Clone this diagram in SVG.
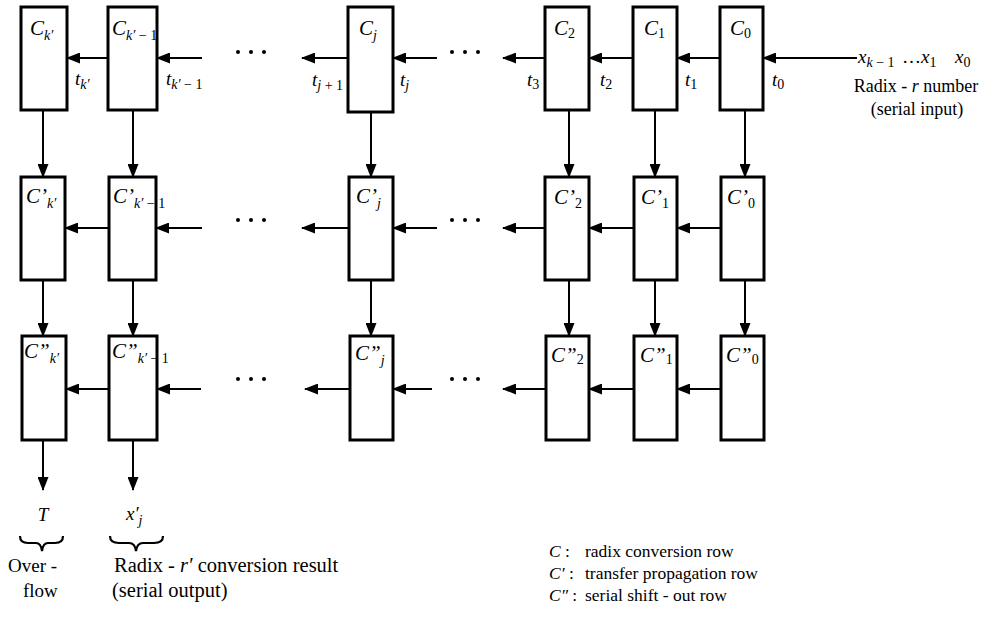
<svg xmlns="http://www.w3.org/2000/svg" width="1002" height="620" viewBox="0 0 1002 620">
<style>
.box{fill:#fff;stroke:#000;stroke-width:3}
.ln{fill:none;stroke:#000;stroke-width:2;marker-end:url(#ah)}
.br{fill:none;stroke:#000;stroke-width:2.2}
text{font-family:"Liberation Serif","Times New Roman",serif;fill:#000}
.lb{font-size:21px;font-style:italic}
.sb{font-size:14px}
.t{font-size:19px;font-style:italic}
.tx{font-size:18px}
.bt{font-size:20.5px}
.ov{font-size:19px}
.lg{font-size:17.5px}
.it{font-style:italic}
.up{font-style:normal}
</style>
<defs>
<marker id="ah" viewBox="0 0 14 11" refX="13" refY="5.5" markerWidth="14" markerHeight="11" markerUnits="userSpaceOnUse" orient="auto"><path d="M0,0 L14,5.5 L0,11 z" fill="#000"/></marker>
</defs>

<!-- Row 1 -->
<g id="C_k"><rect class="box" x="21" y="7" width="46" height="103"/><text class="lb" x="30" y="35">C<tspan class="sb" dy="5">k′</tspan></text></g>
<g id="C_k1"><rect class="box" x="108" y="7" width="49" height="103"/><text class="lb" x="112" y="35">C<tspan class="sb" dy="5">k′<tspan class="up"> − 1</tspan></tspan></text></g>
<g id="C_j"><rect class="box" x="348" y="7" width="45" height="105"/><text class="lb" x="359" y="35">C<tspan class="sb" dy="5">j</tspan></text></g>
<g id="C_2"><rect class="box" x="545" y="7" width="44" height="103"/><text class="lb" x="554" y="35">C<tspan class="sb up" dy="3">2</tspan></text></g>
<g id="C_1"><rect class="box" x="633" y="7" width="44" height="103"/><text class="lb" x="644" y="35">C<tspan class="sb up" dy="3">1</tspan></text></g>
<g id="C_0"><rect class="box" x="720" y="7" width="43" height="103"/><text class="lb" x="730" y="35">C<tspan class="sb up" dy="3">0</tspan></text></g>

<!-- Row 2 -->
<g id="Cp_k"><rect class="box" x="21" y="177" width="44" height="103"/><text class="lb" x="26" y="203">C’<tspan class="sb" dy="5">k′</tspan></text></g>
<g id="Cp_k1"><rect class="box" x="109" y="177" width="47" height="103"/><text class="lb" x="113" y="203">C’<tspan class="sb" dy="5">k′<tspan class="up"> − 1</tspan></tspan></text></g>
<g id="Cp_j"><rect class="box" x="349" y="177" width="44" height="103"/><text class="lb" x="356" y="203">C’<tspan class="sb" dy="5">j</tspan></text></g>
<g id="Cp_2"><rect class="box" x="545" y="177" width="44" height="103"/><text class="lb" x="554" y="204">C’<tspan class="sb up" dy="4">2</tspan></text></g>
<g id="Cp_1"><rect class="box" x="634" y="177" width="43" height="103"/><text class="lb" x="641" y="204">C’<tspan class="sb up" dy="4">1</tspan></text></g>
<g id="Cp_0"><rect class="box" x="721" y="177" width="43" height="103"/><text class="lb" x="727" y="204">C’<tspan class="sb up" dy="4">0</tspan></text></g>

<!-- Row 3 -->
<g id="Cpp_k"><rect class="box" x="22" y="336" width="44" height="104"/><text class="lb" x="24" y="358">C”<tspan class="sb" dy="5">k′</tspan></text></g>
<g id="Cpp_k1"><rect class="box" x="109" y="336" width="48" height="104"/><text class="lb" x="112" y="358">C”<tspan class="sb" dy="5">k′<tspan class="up"> − 1</tspan></tspan></text></g>
<g id="Cpp_j"><rect class="box" x="350" y="336" width="43" height="104"/><text class="lb" x="355" y="360">C”<tspan class="sb" dy="5">j</tspan></text></g>
<g id="Cpp_2"><rect class="box" x="546" y="336" width="43" height="104"/><text class="lb" x="551" y="362">C”<tspan class="sb up" dy="2">2</tspan></text></g>
<g id="Cpp_1"><rect class="box" x="634" y="336" width="43" height="104"/><text class="lb" x="640" y="362">C”<tspan class="sb up" dy="2">1</tspan></text></g>
<g id="Cpp_0"><rect class="box" x="721" y="336" width="43" height="104"/><text class="lb" x="726" y="362">C”<tspan class="sb up" dy="2">0</tspan></text></g>

<!-- Connectors -->
<g id="connectors">
<line class="ln" x1="108" y1="58" x2="67" y2="58"/>
<line class="ln" x1="202" y1="58" x2="157" y2="58"/>
<line class="ln" x1="348" y1="58" x2="302" y2="58"/>
<line class="ln" x1="437" y1="58" x2="393" y2="58"/>
<line class="ln" x1="545" y1="58" x2="503" y2="58"/>
<line class="ln" x1="633" y1="58" x2="589" y2="58"/>
<line class="ln" x1="720" y1="58" x2="677" y2="58"/>
<line class="ln" x1="857" y1="58" x2="763" y2="58"/>
<line class="ln" x1="109" y1="228" x2="65" y2="228"/>
<line class="ln" x1="202" y1="228" x2="156" y2="228"/>
<line class="ln" x1="349" y1="228" x2="302" y2="228"/>
<line class="ln" x1="437" y1="228" x2="393" y2="228"/>
<line class="ln" x1="545" y1="228" x2="503" y2="228"/>
<line class="ln" x1="634" y1="228" x2="589" y2="228"/>
<line class="ln" x1="721" y1="228" x2="677" y2="228"/>
<line class="ln" x1="109" y1="389" x2="66" y2="389"/>
<line class="ln" x1="201" y1="389" x2="157" y2="389"/>
<line class="ln" x1="350" y1="389" x2="305" y2="389"/>
<line class="ln" x1="432" y1="389" x2="393" y2="389"/>
<line class="ln" x1="546" y1="389" x2="503" y2="389"/>
<line class="ln" x1="634" y1="389" x2="589" y2="389"/>
<line class="ln" x1="721" y1="389" x2="677" y2="389"/>
<line class="ln" x1="43" y1="110" x2="43" y2="177"/>
<line class="ln" x1="133" y1="110" x2="133" y2="177"/>
<line class="ln" x1="371" y1="112" x2="371" y2="177"/>
<line class="ln" x1="569" y1="110" x2="569" y2="177"/>
<line class="ln" x1="655" y1="110" x2="655" y2="177"/>
<line class="ln" x1="745" y1="110" x2="745" y2="177"/>
<line class="ln" x1="43" y1="280" x2="43" y2="336"/>
<line class="ln" x1="133" y1="280" x2="133" y2="336"/>
<line class="ln" x1="371" y1="280" x2="371" y2="336"/>
<line class="ln" x1="569" y1="280" x2="569" y2="336"/>
<line class="ln" x1="655" y1="280" x2="655" y2="336"/>
<line class="ln" x1="745" y1="280" x2="745" y2="336"/>
<line class="ln" x1="43" y1="440" x2="43" y2="490"/>
<line class="ln" x1="133" y1="440" x2="133" y2="490"/>
</g>

<!-- ellipsis dots -->
<g id="dots" fill="#000">
<circle cx="238" cy="52" r="2"/><circle cx="251" cy="52" r="2"/><circle cx="264" cy="52" r="2"/>
<circle cx="452" cy="52" r="2"/><circle cx="465" cy="52" r="2"/><circle cx="478" cy="52" r="2"/>
<circle cx="238" cy="220" r="2"/><circle cx="251" cy="220" r="2"/><circle cx="264" cy="220" r="2"/>
<circle cx="452" cy="220" r="2"/><circle cx="465" cy="220" r="2"/><circle cx="478" cy="220" r="2"/>
<circle cx="238" cy="379" r="2"/><circle cx="251" cy="379" r="2"/><circle cx="264" cy="379" r="2"/>
<circle cx="452" cy="379" r="2"/><circle cx="465" cy="379" r="2"/><circle cx="478" cy="379" r="2"/>
</g>

<!-- transfer labels -->
<g id="tlabels">
<text class="t" x="75" y="85">t<tspan class="sb" dy="4">k′</tspan></text>
<text class="t" x="166" y="85">t<tspan class="sb" dy="4">k′<tspan class="up"> − 1</tspan></tspan></text>
<text class="t" x="312" y="86">t<tspan class="sb" dy="4">j<tspan class="up"> + 1</tspan></tspan></text>
<text class="t" x="400" y="86">t<tspan class="sb" dy="4">j</tspan></text>
<text class="t" x="527" y="86">t<tspan class="sb up" dy="3">3</tspan></text>
<text class="t" x="600" y="86">t<tspan class="sb up" dy="3">2</tspan></text>
<text class="t" x="685" y="86">t<tspan class="sb up" dy="3">1</tspan></text>
<text class="t" x="772" y="86">t<tspan class="sb up" dy="3">0</tspan></text>
</g>

<!-- input label -->
<g id="input">
<text class="t" x="858" y="63">x<tspan class="sb" dy="4">k<tspan class="up"> − 1</tspan></tspan></text>
<text class="t" x="902" y="63"><tspan class="up">…</tspan>x<tspan class="sb up" dy="4">1</tspan></text>
<text class="t" x="955" y="63">x<tspan class="sb up" dy="4">0</tspan></text>
<text class="tx" x="916" y="92" text-anchor="middle">Radix - <tspan class="it">r</tspan> number</text>
<text class="tx" x="917" y="115" text-anchor="middle">(serial input)</text>
</g>

<!-- outputs -->
<g id="outputs">
<text class="t" x="43" y="521" text-anchor="middle">T</text>
<text class="t" x="126" y="520">x′<tspan class="sb" dy="5">j</tspan></text>
<path class="br" d="M20,536 Q20,543 28,543 L36,543 Q41,543 42,551 Q43,543 48,543 L55,543 Q63,543 63,536"/>
<path class="br" d="M110,536 Q110,543 119,543 L129,543 Q135,543 136,551 Q137,543 143,543 L154,543 Q163,543 163,536"/>
<text class="ov" x="8" y="572">Over -</text>
<text class="ov" x="23" y="597">flow</text>
<text class="bt" x="114" y="572">Radix - <tspan class="it">r′</tspan> conversion result</text>
<text class="bt" x="112" y="597">(serial output)</text>
</g>

<!-- legend -->
<g id="legend">
<text class="lg" x="549" y="557"><tspan class="it">C</tspan> :<tspan x="585">radix conversion row</tspan></text>
<text class="lg" x="549" y="579"><tspan class="it">C′</tspan> :<tspan x="585">transfer propagation row</tspan></text>
<text class="lg" x="549" y="601"><tspan class="it">C″</tspan> :<tspan x="585">serial shift - out row</tspan></text>
</g>
</svg>
